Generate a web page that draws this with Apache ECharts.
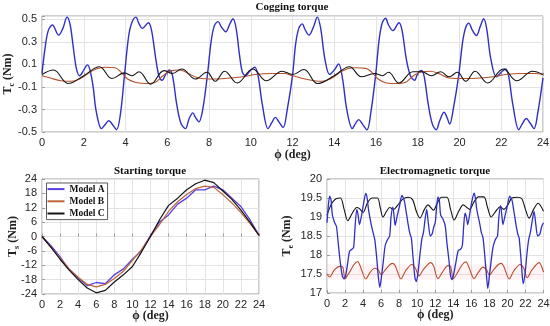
<!DOCTYPE html>
<html><head><meta charset="utf-8">
<script src="https://cdn.jsdelivr.net/npm/echarts@6/dist/echarts.min.js"></script>
<style>html,body{margin:0;padding:0;background:#fff}#c{width:550px;height:326px}</style>
</head><body><div id="c"></div>
<script>
// ---------- Cogging torque (phi [deg], Tc [Nm]) ----------
const cogBlue = [[0,0.02],[0.15,0.25],[0.3,0.4],[0.5,0.45],[0.8,0.36],[1.0,0.42],[1.2,0.52],[1.35,0.45],[1.5,0.25],[1.65,0.06],[1.8,0.0],[2.0,0.05],[2.17,0.096],[2.3,0.05],[2.45,-0.1],[2.6,-0.32],[2.85,-0.47],[3.0,-0.44],[3.2,-0.40],[3.4,-0.44],[3.57,-0.48],[3.75,-0.35],[3.95,0.0],[4.15,0.35],[4.3,0.47],[4.5,0.52],[4.65,0.46],[4.8,0.42],[5.1,0.47],[5.25,0.4],[5.45,0.15],[5.6,0.0],[5.75,-0.04],[5.95,0.02],[6.1,0.05],[6.25,0.0],[6.45,-0.25],[6.65,-0.42],[6.87,-0.47],[7.05,-0.38],[7.23,-0.33],[7.35,-0.37],[7.52,-0.41],[7.7,-0.3],[7.92,0.0],[8.1,0.3],[8.25,0.44],[8.43,0.48],[8.6,0.43],[8.8,0.39],[9.0,0.46],[9.15,0.505],[9.3,0.42],[9.45,0.2],[9.6,0.03],[9.75,0.0],[9.95,0.04],[10.19,0.076],[10.35,0.0],[10.55,-0.25],[10.83,-0.47],[11.0,-0.42],[11.18,-0.37],[11.35,-0.41],[11.55,-0.46],[11.75,-0.3],[12.0,0.0],[12.15,0.28],[12.3,0.42],[12.47,0.46],[12.6,0.41],[12.79,0.36],[13.0,0.43],[13.19,0.52],[13.35,0.42],[13.55,0.15],[13.78,0.01],[14.0,0.05],[14.21,0.105],[14.4,-0.03],[14.6,-0.3],[14.87,-0.47],[15.0,-0.43],[15.17,-0.39],[15.35,-0.43],[15.57,-0.48],[15.75,-0.33],[15.98,0.0],[16.15,0.32],[16.3,0.47],[16.46,0.51],[16.6,0.45],[16.81,0.40],[17.1,0.47],[17.25,0.4],[17.45,0.15],[17.65,0.0],[17.85,-0.04],[18.0,0.02],[18.17,0.046],[18.3,0.0],[18.5,-0.25],[18.7,-0.43],[18.89,-0.48],[19.05,-0.4],[19.26,-0.325],[19.4,-0.37],[19.53,-0.43],[19.7,-0.3],[19.96,0.0],[20.15,0.3],[20.3,0.43],[20.45,0.467],[20.6,0.41],[20.81,0.357],[21.0,0.44],[21.16,0.505],[21.3,0.42],[21.5,0.15],[21.77,-0.01],[22.0,0.03],[22.2,0.06],[22.35,0.0],[22.55,-0.25],[22.84,-0.48],[23.0,-0.43],[23.2,-0.38],[23.38,-0.42],[23.57,-0.47],[23.75,-0.33],[24,-0.02]];
const cogRed = [[0,0.0],[0.4,-0.02],[0.9,-0.045],[1.4,-0.05],[1.8,-0.03],[2.2,0.02],[2.6,0.06],[3.0,0.075],[3.5,0.07],[3.8,0.03],[4.1,-0.03],[4.5,-0.06],[5.0,-0.07],[5.4,-0.06],[5.8,0.0],[6.2,0.045],[6.6,0.05],[7.0,0.02],[7.5,-0.02],[8.2,-0.03],[9.0,-0.02],[9.6,-0.01],[10.2,0.01],[11.0,0.02],[11.6,0.02],[12.0,0.0],[12.4,-0.02],[12.9,-0.04],[13.4,-0.05],[13.8,-0.03],[14.2,0.02],[14.6,0.06],[15.0,0.07],[15.5,0.065],[15.8,0.03],[16.1,-0.03],[16.5,-0.065],[17.0,-0.07],[17.4,-0.06],[17.8,0.0],[18.2,0.035],[18.6,0.04],[19.0,0.02],[19.5,-0.02],[20.2,-0.025],[21.0,-0.02],[21.6,-0.01],[22.2,0.01],[23.0,0.02],[23.6,0.02],[24,0.01]];
const cogBlack = [[0,0.01],[0.55,0.05],[1.25,-0.07],[2.0,0.0],[2.75,0.08],[3.35,-0.025],[3.95,0.025],[4.3,0.0],[4.65,0.035],[5.2,-0.075],[5.85,0.045],[6.25,0.02],[6.7,0.06],[7.35,-0.03],[7.9,0.03],[8.3,-0.05],[8.75,0.04],[9.35,-0.065],[10.1,0.06],[10.75,-0.045],[11.5,0.04],[12.0,0.01],[12.55,0.055],[13.2,-0.07],[14.0,0.0],[14.73,0.08],[15.3,-0.01],[15.93,0.02],[16.3,0.0],[16.6,0.03],[17.1,-0.065],[17.77,0.035],[18.2,0.035],[18.65,0.0],[19.1,0.035],[19.5,-0.01],[19.9,0.03],[20.3,-0.05],[20.75,0.04],[21.35,-0.065],[22.1,0.06],[22.75,-0.045],[23.5,0.04],[24,0.01]];

// ---------- Starting torque ----------
const stAngle = [0,1,2,3,4,5,6,7,8,9,10,11,12,13,14,15,16,17,18,19,20,21,22,23,24];
const stA = [0,-3.8,-8.5,-13.8,-17.3,-20.5,-19.2,-19.7,-16,-13.5,-9.5,-6,0.5,6,9,13.5,16,19.5,19.5,21,19.5,16,12.5,7,0.5];
const stB = [0,-4.5,-9,-13.5,-17,-20,-21,-20,-17.5,-14.5,-10,-5.5,0,5,10.5,14.5,17.5,20,21,20.5,17.5,14,10,5.5,0.5];
const stC = [0,-4.5,-9.5,-14,-18,-21.5,-23.5,-22.5,-19,-16,-12.5,-6.5,0,7,13,16,19.5,22,23.5,22.5,19,15.5,11,6,0.5];

// ---------- Electromagnetic torque ----------
const emBlue = [[0,18.85],[0.15,19.3],[0.3,19.55],[0.45,19.45],[0.6,19.05],[0.85,18.85],[1.05,18.75],[1.25,18.3],[1.45,17.85],[1.7,17.45],[1.9,17.37],[2.1,17.5],[2.3,17.8],[2.5,18.1],[2.75,18.15],[2.95,18.2],[3.1,18.7],[3.3,19.2],[3.45,19.05],[3.6,18.8],[3.8,19.0],[4.05,19.35],[4.3,19.62],[4.45,19.5],[4.6,19.2],[4.9,18.8],[5.1,18.6],[5.3,18.4],[5.5,17.95],[5.7,17.4],[5.85,17.15],[6.05,17.45],[6.25,17.85],[6.45,18.25],[6.7,18.4],[6.95,18.5],[7.1,19.0],[7.3,19.26],[7.45,19.0],[7.55,18.78],[7.8,19.05],[8.05,19.3],[8.3,19.57],[8.55,19.45],[8.8,19.1],[9.0,18.8],[9.2,18.55],[9.35,18.45],[9.55,17.9],[9.75,17.4],[9.9,17.3],[10.1,17.55],[10.3,18.0],[10.5,18.4],[10.7,18.6],[10.85,18.9],[11.05,19.2],[11.25,18.8],[11.45,18.5],[11.65,18.55],[11.85,18.75],[12.0,18.85],[12.15,19.25],[12.3,19.53],[12.45,19.45],[12.6,19.05],[12.85,18.95],[13.1,18.78],[13.3,18.3],[13.5,17.9],[13.7,17.45],[13.87,17.35],[14.05,17.5],[14.3,17.82],[14.55,18.12],[14.8,18.15],[15.0,18.25],[15.15,18.75],[15.3,19.1],[15.45,19.0],[15.6,18.8],[15.8,19.05],[16.05,19.4],[16.3,19.63],[16.45,19.5],[16.6,19.2],[16.95,18.8],[17.1,18.6],[17.3,18.45],[17.5,17.95],[17.7,17.4],[17.82,17.12],[18.0,17.45],[18.2,17.85],[18.4,18.2],[18.65,18.4],[18.9,18.5],[19.05,19.0],[19.25,19.3],[19.4,19.0],[19.5,18.8],[19.75,19.05],[20.0,19.3],[20.25,19.55],[20.5,19.45],[20.75,19.1],[20.95,18.8],[21.15,18.55],[21.3,18.45],[21.5,17.9],[21.65,17.45],[21.75,17.25],[21.95,17.5],[22.15,18.0],[22.35,18.4],[22.55,18.6],[22.75,18.9],[22.95,19.15],[23.15,18.8],[23.35,18.5],[23.6,18.55],[23.8,18.75],[24,18.85]];
const emRed = [[0,17.5],[0.3,17.42],[0.8,17.6],[1.4,17.7],[1.75,17.68],[2.0,17.38],[2.5,17.55],[3.0,17.75],[3.4,17.83],[3.7,17.7],[4.3,17.37],[4.8,17.55],[5.3,17.65],[5.7,17.6],[6.0,17.48],[6.5,17.62],[7.0,17.75],[7.3,17.78],[7.6,17.7],[8.2,17.37],[8.7,17.58],[9.4,17.75],[9.8,17.65],[10.2,17.45],[10.7,17.62],[11.5,17.8],[11.8,17.72],[12.3,17.38],[12.8,17.55],[13.4,17.72],[13.7,17.7],[14.0,17.38],[14.5,17.55],[15.0,17.75],[15.4,17.82],[15.7,17.7],[16.3,17.38],[16.8,17.55],[17.3,17.68],[17.7,17.6],[18.0,17.47],[18.5,17.62],[19.0,17.75],[19.3,17.78],[19.6,17.7],[20.2,17.37],[20.7,17.58],[21.4,17.75],[21.8,17.66],[22.2,17.4],[22.7,17.6],[23.5,17.8],[24,17.55]];
const emBlack = [[0,19.05],[0.5,19.35],[1.0,19.48],[1.5,19.5],[1.9,19.2],[2.3,18.9],[2.8,19.1],[3.3,19.25],[3.6,19.22],[4.0,19.12],[4.5,19.38],[5.0,19.5],[5.6,19.5],[5.9,19.25],[6.2,19.0],[6.6,19.15],[6.95,19.25],[7.4,19.2],[7.8,19.3],[8.4,19.47],[9.0,19.52],[9.5,19.45],[9.9,19.15],[10.3,18.97],[10.8,19.2],[11.2,19.32],[11.8,19.18],[12.2,19.35],[12.7,19.52],[13.3,19.52],[13.7,19.2],[14.1,18.92],[14.6,19.15],[15.1,19.32],[15.5,19.25],[15.8,19.2],[16.3,19.4],[16.8,19.53],[17.4,19.53],[17.8,19.25],[18.2,19.0],[18.7,19.15],[19.2,19.27],[19.6,19.2],[20.0,19.3],[20.5,19.5],[21.1,19.52],[21.6,19.48],[22.0,19.2],[22.4,18.97],[22.9,19.2],[23.4,19.36],[24,19.15]];

const xTicks = 2;
const legendNames = ['Model A','Model B','Model C'];

const SERIF = '"Liberation Serif","Times New Roman",serif';
const SANS = '"Liberation Sans",Arial,sans-serif';
const BLUE = '#2f2fc8', BLUE_A = '#5a3ee0', RED = '#b5502d', BLACK = '#141414';
const GRIDC = '#e3e3e3', BOXC = '#9c9c9c';

function xAx(gi, gap) {
  return { type:'value', gridIndex:gi, min:0, max:24, interval:xTicks,
    name:'ϕ (deg)', nameLocation:'middle', nameGap:gap, nameMoveOverlap:false,
    nameTextStyle:{fontFamily:SERIF, fontWeight:'bold', fontSize:12, color:'#222'},
    axisLine:{show:false}, axisTick:{show:true, inside:true, length:3, lineStyle:{color:BOXC}},
    axisLabel:{fontFamily:SANS, fontSize:11, color:'#262626', margin:5},
    splitLine:{show:true, lineStyle:{color:GRIDC, width:1}} };
}
function yAx(gi, min, max, interval, sub, gap, fmt) {
  return { type:'value', gridIndex:gi, min, max, interval,
    name:'{a|T}{b|' + sub + '}{a| (Nm)}', nameLocation:'middle', nameGap:gap, nameMoveOverlap:false,
    nameTextStyle:{ rich:{ a:{fontFamily:SERIF, fontWeight:'bold', fontSize:12, color:'#222', lineHeight:16},
                           b:{fontFamily:SERIF, fontWeight:'bold', fontSize:8, color:'#222', verticalAlign:'bottom', lineHeight:8} } },
    axisLine:{show:false}, axisTick:{show:true, inside:true, length:3, lineStyle:{color:BOXC}},
    axisLabel:{fontFamily:SANS, fontSize:11, color:'#262626', margin:5, formatter:fmt},
    splitLine:{show:true, lineStyle:{color:GRIDC, width:1}} };
}
function ln(name, xi, data, color, w, smooth) {
  return { type:'line', name, xAxisIndex:xi, yAxisIndex:xi, data, showSymbol:false, symbol:'none',
    smooth, lineStyle:{color, width:w}, itemStyle:{color}, animation:false, z:3 };
}

const chart = echarts.init(document.getElementById('c'));
chart.setOption({
  backgroundColor:'#fff',
  animation:false,
  grid:[
    {left:42, right:7, top:16, bottom:194, show:true, borderColor:BOXC, borderWidth:1, containLabel:false, outerBoundsMode:'none'},
    {left:42, right:291, top:179, bottom:32, show:true, borderColor:BOXC, borderWidth:1, containLabel:false, outerBoundsMode:'none'},
    {left:327, right:6.5, top:179, bottom:33, show:true, borderColor:BOXC, borderWidth:1, containLabel:false, outerBoundsMode:'none'}
  ],
  xAxis:[ xAx(0,17), xAx(1,16), xAx(2,16) ],
  yAxis:[
    yAx(0,-0.5,0.53,0.2,'c',26, v => (Math.abs(v-0.53)<1e-6 ? '' : (Math.round(v*10)/10).toFixed(1))),
    yAx(1,-24,24,6,'s',21),
    yAx(2,17,20,0.5,'e',32)
  ],
  legend:{ data:legendNames, orient:'vertical', left:46.5, top:183, itemWidth:17, itemHeight:2, itemGap:0,
    icon:'rect', padding:[0,3,0,1], backgroundColor:'#fff', borderColor:'#333', borderWidth:0.8,
    textStyle:{fontFamily:SERIF, fontWeight:'bold', fontSize:9.5, color:'#111', lineHeight:12.2} },
  graphic:[
    {type:'text', style:{text:'Cogging torque', x:292, y:7, align:'center', verticalAlign:'middle', font:'bold 11px "Liberation Serif"', fill:'#111'}},
    {type:'text', style:{text:'Starting torque', x:150, y:171, align:'center', verticalAlign:'middle', font:'bold 11px "Liberation Serif"', fill:'#111'}},
    {type:'text', style:{text:'Electromagnetic torque', x:435, y:171, align:'center', verticalAlign:'middle', font:'bold 11px "Liberation Serif"', fill:'#111'}}
  ],
  series:[
    ln('Model A', 1, stAngle.map((x,i)=>[x, stA[i]]), BLUE_A, 1.3, false),
    ln('Model B', 1, stAngle.map((x,i)=>[x, stB[i]]), '#c0643c', 1.2, false),
    ln('Model C', 1, stAngle.map((x,i)=>[x, stC[i]]), BLACK, 1.2, false),
    ln('cogA', 0, cogBlue, BLUE, 1.4, 0.35),
    ln('cogB', 0, cogRed, RED, 1.1, 0.4),
    ln('cogC', 0, cogBlack, BLACK, 1.1, 0.4),
    Object.assign(ln('emB', 2, emRed, RED, 1.1, 0.3), {
      markArea:{silent:true, itemStyle:{color:'rgba(255,190,205,0.18)'}, data:[[{xAxis:0, yAxis:17.35},{xAxis:24, yAxis:17.75}]]}
    }),
    ln('emC', 2, emBlack, BLACK, 1.1, 0.3),
    ln('emA', 2, emBlue, BLUE, 1.3, 0.25)
  ]
});
</script></body></html>
